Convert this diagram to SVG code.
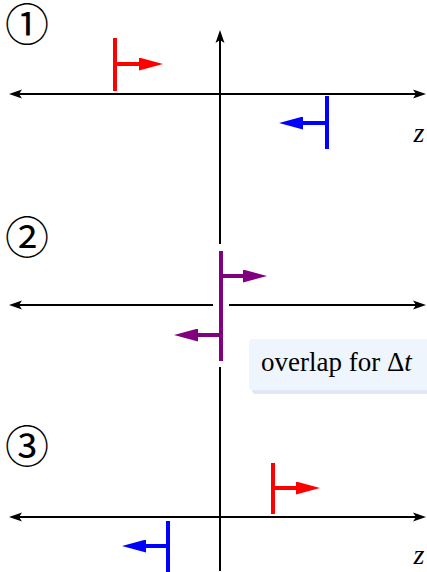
<svg xmlns="http://www.w3.org/2000/svg" width="427" height="572" viewBox="0 0 427 572">
  <style>
    .axis { stroke: #000; stroke-width: 2; fill: none; }
    .bar { stroke-width: 4; fill: none; stroke-linecap: butt; }
    .shaft { stroke-width: 4; fill: none; }
    .red { stroke: #ff0000; }
    .blue { stroke: #0000ff; }
    .purple { stroke: #800080; }
    .num { font-family: "Noto Sans CJK JP", "DejaVu Sans", sans-serif; font-size: 44px; font-weight: 400; fill: #000; text-anchor: middle; }
    .zlab { font-family: "Liberation Serif", serif; font-style: italic; font-size: 28px; fill: #000; text-anchor: middle; }
    .note { font-family: "Liberation Serif", serif; font-size: 27px; fill: #000; }
  </style>
  <defs>
    <marker id="ax" markerUnits="userSpaceOnUse" markerWidth="14" markerHeight="10" viewBox="0 0 14 10" refX="4" refY="5" orient="auto-start-reverse">
      <path d="M0,0.5 L13,5 L0,9.5 L3,5 z" fill="#000"/>
    </marker>
    <marker id="hr" markerUnits="userSpaceOnUse" markerWidth="24" markerHeight="13" viewBox="0 0 24 13" refX="2" refY="6.5" orient="auto">
      <path d="M0,0 L24,6.5 L0,13 z" fill="#ff0000"/>
    </marker>
    <marker id="hb" markerUnits="userSpaceOnUse" markerWidth="24" markerHeight="13" viewBox="0 0 24 13" refX="2" refY="6.5" orient="auto">
      <path d="M0,0 L24,6.5 L0,13 z" fill="#0000ff"/>
    </marker>
    <marker id="hp" markerUnits="userSpaceOnUse" markerWidth="24" markerHeight="13" viewBox="0 0 24 13" refX="2" refY="6.5" orient="auto">
      <path d="M0,0 L24,6.5 L0,13 z" fill="#800080"/>
    </marker>
  </defs>

  <g id="axes">
    <line class="axis" x1="220" y1="571" x2="220" y2="39" marker-end="url(#ax)"/>
    <line class="axis" x1="18" y1="94" x2="417" y2="94" marker-start="url(#ax)" marker-end="url(#ax)"/>
    <line class="axis" x1="18" y1="305" x2="417" y2="305" marker-start="url(#ax)" marker-end="url(#ax)"/>
    <line class="axis" x1="18" y1="517" x2="417" y2="517" marker-start="url(#ax)" marker-end="url(#ax)"/>
    <text class="zlab" x="419" y="142">z</text>
    <text class="zlab" x="419" y="564">z</text>
  </g>

  <g id="label1"><text class="num" x="27" y="41">①</text></g>
  <g id="label2"><text class="num" x="27" y="254">②</text></g>
  <g id="label3"><text class="num" x="27" y="463">③</text></g>

  <g id="front-red-1">
    <line class="bar red" x1="115" y1="38" x2="115" y2="91"/>
    <line class="shaft red" x1="117" y1="64" x2="141" y2="64" marker-end="url(#hr)"/>
  </g>
  <g id="front-blue-1">
    <line class="bar blue" x1="327" y1="96" x2="327" y2="149"/>
    <line class="shaft blue" x1="325" y1="123" x2="301" y2="123" marker-end="url(#hb)"/>
  </g>

  <g id="front-purple-2">
    <line x1="221" y1="244" x2="221" y2="367" stroke="#fff" stroke-width="16"/>
    <line class="bar purple" x1="221" y1="251" x2="221" y2="361"/>
    <line class="shaft purple" x1="223" y1="276" x2="245" y2="276" marker-end="url(#hp)"/>
    <line class="shaft purple" x1="219" y1="335" x2="196" y2="335" marker-end="url(#hp)"/>
  </g>

  <g id="overlap-note">
    <rect x="252" y="344" width="180" height="50" rx="4" fill="#e3e6f7"/>
    <rect x="249" y="339" width="180" height="51" rx="4" fill="#eef5fd"/>
    <text class="note" x="261" y="371">overlap for Δ<tspan font-style="italic">t</tspan></text>
  </g>

  <g id="front-red-3">
    <line class="bar red" x1="273" y1="463" x2="273" y2="514"/>
    <line class="shaft red" x1="275" y1="488" x2="298" y2="488" marker-end="url(#hr)"/>
  </g>
  <g id="front-blue-3">
    <line class="bar blue" x1="168" y1="521" x2="168" y2="572"/>
    <line class="shaft blue" x1="166" y1="546" x2="144" y2="546" marker-end="url(#hb)"/>
  </g>
</svg>
